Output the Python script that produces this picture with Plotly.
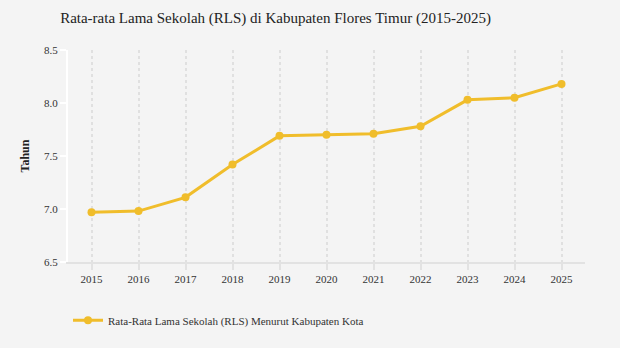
import plotly.graph_objects as go

years = [2015, 2016, 2017, 2018, 2019, 2020, 2021, 2022, 2023, 2024, 2025]
rls = [6.97, 6.98, 7.11, 7.42, 7.69, 7.70, 7.71, 7.78, 8.03, 8.05, 8.18]
series_name = "Rata-Rata Lama Sekolah (RLS) Menurut Kabupaten Kota"
title_text = "Rata-rata Lama Sekolah (RLS) di Kabupaten Flores Timur (2015-2025)"

color = "#f0bd2b"
bg = "#f4f4f4"

fig = go.Figure()
fig.add_trace(go.Scatter(
    x=years, y=rls, mode="lines+markers", name=series_name,
    line=dict(color=color, width=3),
    marker=dict(color=color, size=8),
))

fig.update_layout(
    width=620, height=348,
    paper_bgcolor=bg, plot_bgcolor=bg,
    margin=dict(l=68, r=35, t=50, b=86),
    title=dict(text=title_text, x=0.097, xanchor="left", y=0.948, yanchor="middle",
               font=dict(family="Liberation Serif", size=15, color="#222")),
    font=dict(family="Liberation Serif", size=11, color="#333"),
    showlegend=True,
    legend=dict(orientation="h", x=0.0, xanchor="left", y=-0.275, yanchor="middle",
                font=dict(family="Liberation Serif", size=11, color="#333")),
    xaxis=dict(
        range=[2014.5, 2025.5], tickmode="array", tickvals=years,
        ticktext=[str(y) for y in years],
        tickfont=dict(family="Liberation Serif", size=11, color="#333"),
        showgrid=True, gridcolor="#e0e0e0", griddash="dot", gridwidth=2,
        showline=True, linecolor="#e2e2e2", linewidth=2,
        ticks="outside", ticklen=6, tickcolor="#e2e2e2", tickwidth=2,
        zeroline=False,
    ),
    yaxis=dict(
        range=[6.5, 8.5], tickmode="array", tickvals=[6.5, 7.0, 7.5, 8.0, 8.5],
        ticktext=["6.5", "7.0", "7.5", "8.0", "8.5"],
        tickfont=dict(family="Liberation Serif", size=11, color="#333"),
        showgrid=False, zeroline=False,
        showline=True, linecolor="#ffffff", linewidth=2,
        ticks="outside", ticklen=6, tickcolor="#ffffff", tickwidth=2,
        title=dict(text="<b>Tahun</b>", font=dict(family="Liberation Serif", size=12, color="#222"), standoff=12),
    ),
)

fig.write_html("out.html")
